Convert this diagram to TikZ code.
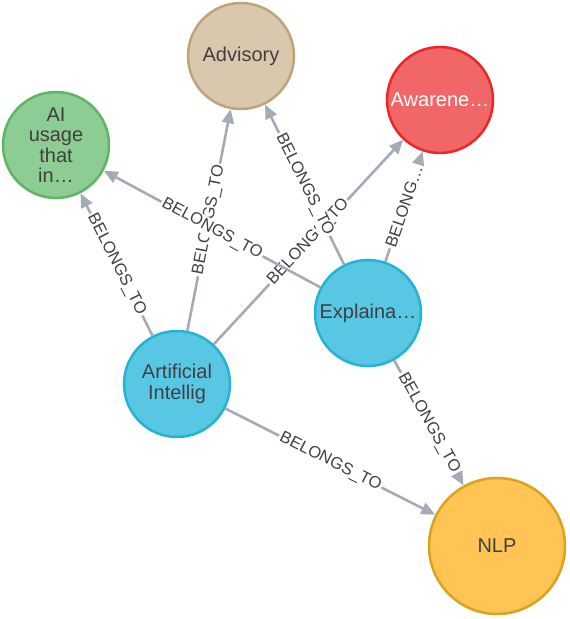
\documentclass[tikz,border=0pt]{standalone}
\usepackage{fontspec}
\setmainfont{Liberation Sans}
\usetikzlibrary{arrows.meta}
\definecolor{advisoryfill}{HTML}{D9C8AE}
\definecolor{advisorydraw}{HTML}{C0A378}
\definecolor{greenfill}{HTML}{8DCC93}
\definecolor{greendraw}{HTML}{5DB665}
\definecolor{redfill}{HTML}{F16667}
\definecolor{reddraw}{HTML}{EB2728}
\definecolor{bluefill}{HTML}{57C7E3}
\definecolor{bluedraw}{HTML}{23B3D7}
\definecolor{yellowfill}{HTML}{FFC454}
\definecolor{yellowdraw}{HTML}{D9A31C}
\definecolor{edgegrey}{HTML}{A5ABB6}
\definecolor{captiongrey}{HTML}{404040}
\begin{document}
\begin{tikzpicture}
[x=1pt,y=-1pt,
  nodedecorate/.style={shape=circle,minimum size=106pt,inner sep=0pt,line width=2.5pt,%
    align=center,text=captiongrey,font=\fontsize{20}{20.5}\selectfont},%
  advisorynode/.style={fill=advisoryfill,draw=advisorydraw},%
  greennode/.style={fill=greenfill,draw=greendraw},%
  rednode/.style={fill=redfill,draw=reddraw,text=white},%
  bluenode/.style={fill=bluefill,draw=bluedraw},%
  yellownode/.style={fill=yellowfill,draw=yellowdraw,minimum size=136pt},%
  linedecorate/.style={draw=edgegrey,line width=2.6pt,-{Triangle[length=14pt,width=12pt]}},%
  labeldecorate/.style={sloped,fill=white,inner sep=1.5pt,text=captiongrey,%
    font=\fontsize{16.5}{16.5}\selectfont}]
\useasboundingbox (0,0) rectangle (570,619);
%% nodes or vertices
\foreach \nodename/\x/\y/\nodestyle/\caption in {
  advisory/241/56/advisorynode/Advisory,
  aiusage/56/145/greennode/{AI\\usage\\that\\in…},
  awareness/440/100/rednode/Awarene…,
  explaina/368/313/bluenode/Explaina…,
  artificial/177/384/bluenode/{Artificial\\Intellig},
  nlp/497/546/yellownode/NLP} {
  \node (\nodename) at (\x,\y) [nodedecorate,\nodestyle] {\caption};
}
%% edges or lines
\path
\foreach \startnode/\endnode/\caption in {
  artificial/aiusage/BELONGS\_TO, artificial/advisory/BELONGS\_TO,
  artificial/awareness/BELONGS\_TO, artificial/nlp/BELONGS\_TO,
  explaina/advisory/BELONGS\_TO, explaina/aiusage/BELONGS\_TO,
  explaina/awareness/BELONG…, explaina/nlp/BELONGS\_TO} {
  (\startnode) edge[linedecorate] node[labeldecorate] {\caption} (\endnode)
};
\end{tikzpicture}
\end{document}
